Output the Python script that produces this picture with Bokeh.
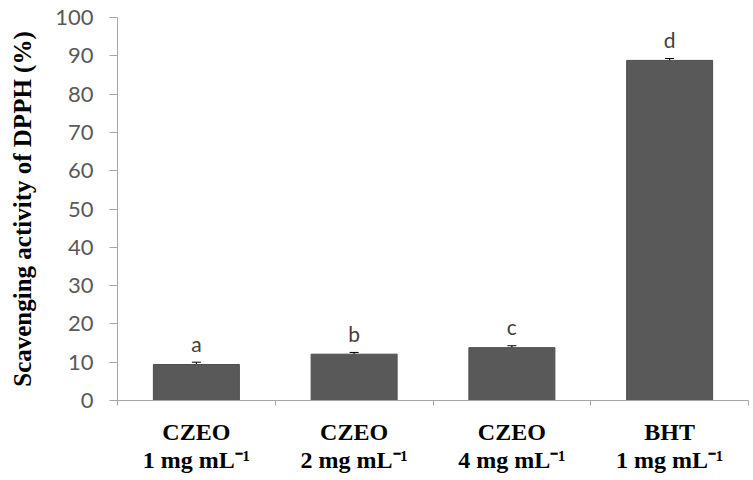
from bokeh.plotting import figure
from bokeh.models import ColumnDataSource, FixedTicker, Whisker, Range1d, LinearAxis
from bokeh.core.properties import value
from bokeh.embed import file_html
from bokeh.resources import INLINE

groups = ["CZEO", "CZEO", "CZEO", "BHT"]
doses = ["1 mg mL\u207b\u00b9", "2 mg mL\u207b\u00b9", "4 mg mL\u207b\u00b9", "1 mg mL\u207b\u00b9"]
values = [9.4, 12.1, 13.8, 88.8]
errors = [0.6, 0.45, 0.5, 0.5]
letters = ["a", "b", "c", "d"]
y_ticks = [0, 10, 20, 30, 40, 50, 60, 70, 80, 90, 100]

n = len(values)
xs = [i + 0.5 for i in range(n)]
src = ColumnDataSource(dict(
    x=xs, top=values,
    upper=[v + e for v, e in zip(values, errors)],
    lower=[v - e for v, e in zip(values, errors)],
    ly=[v + 5.5 for v in values],
    letter=letters,
))

p = figure(width=753, height=480, output_backend="svg", toolbar_location=None,
           x_range=Range1d(0, n), y_range=Range1d(0, 100),
           min_border_left=117, min_border_right=5, min_border_top=17, min_border_bottom=80)
p.outline_line_color = None
p.grid.visible = False
p.background_fill_color = "white"

p.vbar(x="x", top="top", width=0.545, bottom=0, source=src,
       fill_color="#595959", line_color="#4d4d4d")
w = Whisker(source=src, base="x", upper="upper", lower="lower", line_color="black", line_width=1.2)
w.upper_head.size = 9
w.lower_head.size = 9
w.upper_head.line_color = "black"
w.lower_head.line_color = "black"
p.add_layout(w)

p.text(x="x", y="ly", text="letter", source=src, text_align="center",
       text_baseline="middle", text_font=value("Lato"), text_font_size="21px",
       text_color="#404040")

# y axis
p.yaxis.ticker = FixedTicker(ticks=y_ticks)
p.yaxis.axis_line_color = "#a6a6a6"
p.yaxis.major_tick_line_color = "#a6a6a6"
p.yaxis.major_tick_out = 8
p.yaxis.major_tick_in = 0
p.yaxis.minor_tick_line_color = None
p.yaxis.major_label_text_font = "Lato"
p.yaxis.major_label_text_font_size = "22px"
p.yaxis.major_label_text_color = "#595959"
p.yaxis.major_label_standoff = 16
p.yaxis.axis_label = "Scavenging activity of DPPH (%)"
p.yaxis.axis_label_text_font = "Liberation Serif"
p.yaxis.axis_label_text_font_style = "bold"
p.yaxis.axis_label_text_font_size = "25px"
p.yaxis.axis_label_text_color = "black"
p.yaxis.axis_label_standoff = 16

# x axis: ticks at category boundaries
bounds = list(range(n + 1))
p.xaxis.ticker = FixedTicker(ticks=bounds)
p.xaxis.major_label_overrides = {b: "" for b in bounds}
p.xaxis.axis_line_color = "#a6a6a6"
p.xaxis.major_tick_line_color = "#a6a6a6"
p.xaxis.major_tick_out = 5
p.xaxis.major_tick_in = 0
p.xaxis.minor_tick_line_color = None

# category labels on a second axis, centred
cat_axis = LinearAxis(ticker=FixedTicker(ticks=xs),
                      major_label_overrides={x: g + "\n" + d for x, g, d in zip(xs, groups, doses)})
cat_axis.axis_line_color = None
cat_axis.major_tick_line_color = None
cat_axis.minor_tick_line_color = None
cat_axis.major_label_text_font = "Liberation Serif"
cat_axis.major_label_text_font_style = "bold"
cat_axis.major_label_text_font_size = "24px"
cat_axis.major_label_text_color = "black"
cat_axis.major_label_text_line_height = 1.1
cat_axis.major_label_standoff = 7
p.add_layout(cat_axis, "below")

open("out.html", "w").write(file_html(p, INLINE))
